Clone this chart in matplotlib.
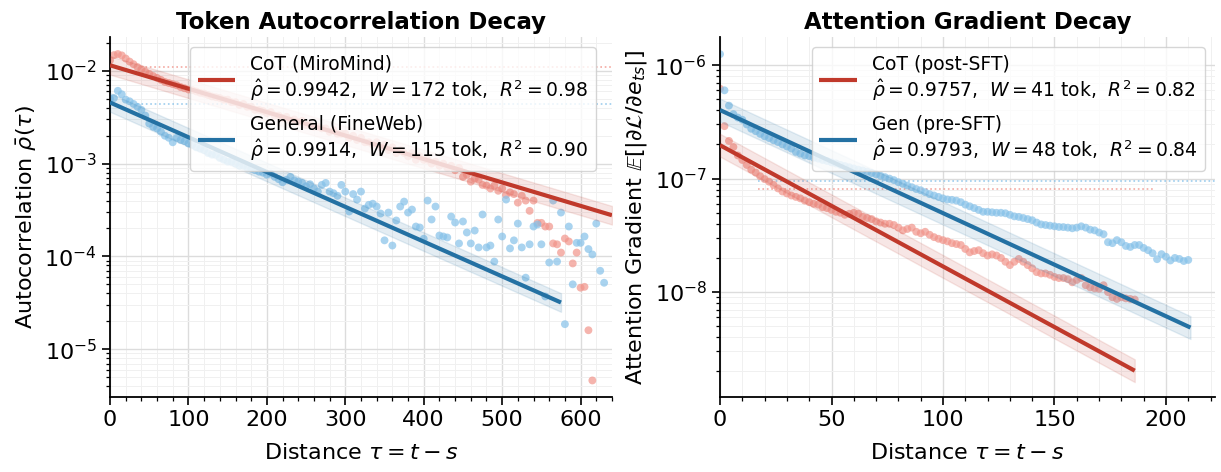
import numpy as np
import matplotlib
matplotlib.use('Agg')
import matplotlib.pyplot as plt
from matplotlib.ticker import MultipleLocator, LogLocator, NullFormatter

# ---- left panel: token autocorrelation (tau step 5), values in 1e-4 ----
tok_step = 5
cot_tok = np.array([
    130, 148, 152, 147, 136, 126, 118, 110, 104, 98, 93, 88, 84, 80, 76,
    74, 72, 70, 67, 65, 63, 62, 60, 58, 57, 55, 53, 52, 51, 49,
    49, 46, 46, 43, 44, 41, 41, 38, 38, 37, 35, 36, 33, 33, 31,
    32, 29, 30, 28, 29, 26, 27, 25, 25, 24, 24, 22, 23, 21, 21,
    21, 19, 20, 18, 19, 17, 17, 16, 17, 15, 16, 14, 15, 13, 14,
    13, 12, 13, 11, 12, 11, 11, 10, 10.5, 9.5, 10, 9, 9.5, 8.5, 9,
    7.2, 7.6, 6.4, 6.9, 6.7, 5.9, 5.8, 5.4, 5.8, 5.1, 5.4, 4.6, 4.9, 4.7,
    3.8, 4.5, 4.0, 3.1, 4.0, 2.3, 2.3, 2.1, 2.1, 1.38, 1.35, 1.1, 1.56, 1.45,
    0.84, 1.1, 0.46, 0.47, 0.16, 0.046]) * 1e-4
gen_tok = np.array([
    50, 51, 61, 56, 49, 47, 44, 41, 38, 33, 27, 25, 24, 22, 20,
    19, 17, 19, 18, 17.5, 16.5, 16, 15, 14.5, 14, 13, 12.5, 12.5, 11.5, 11,
    10.5, 10.5, 10, 9.5, 9.5, 9, 8.8, 8.5, 8.2, 8, 7.6, 7.8, 7.2, 6.8, 6.3,
    6.7, 7.2, 6.6, 6.4, 6.2, 5.7, 6.0, 5.4, 5.0, 5.9, 6.2, 5.0, 4.8, 4.5, 5.9,
    5.0, 3.05, 4.7, 4.1, 5.0, 3.28, 3.6, 3.7, 3.45, 2.9, 1.49, 2.97, 1.31, 2.44, 3.45,
    3.9, 2.97, 3.2, 2.1, 2.05, 1.55, 4.0, 2.5, 3.45, 1.68, 1.64, 1.6, 2.69, 2.32, 1.38,
    2.38, 1.81, 1.38, 1.9, 1.25, 2.83, 1.25, 1.31, 0.88, 2.5, 1.64, 4.1, 1.22, 1.49, 2.26,
    1.25, 0.59, 1.35, 2.1, 2.21, 1.35, 0.37, 0.86, 4.0, 0.88, 2.97, 0.186, 2.1, 0.50, 1.4,
    1.4, 1.64, 1.2, 1.05, 2.26, 0.7, 0.52]) * 1e-4

# ---- right panel: attention gradient (tau step 2), values in 1e-9 ----
grad_step = 2
cot_grad = np.array([
    620, 290, 215, 190, 160, 146, 132, 120, 113, 105, 99, 94, 88, 82, 77,
    74, 71, 69, 67, 64, 62, 60, 59, 56, 55, 53, 51, 50, 48, 49,
    50, 49, 46, 45, 44, 42, 41, 40, 40, 39, 37, 35, 36, 37, 34,
    33, 34, 32, 30.5, 29.5, 28.7, 28, 27, 26.5, 26, 24, 22.4, 23, 23.4, 22,
    21, 21.5, 21, 20, 18.5, 17.3, 18.5, 19.6, 18.5, 17.3, 16.2, 15, 14.6, 14.6, 14.2,
    13.6, 13.3, 13.3, 13, 12.2, 12.8, 13.3, 11.5, 11, 10.8, 10.7, 11.5, 10, 9.0, 8.7,
    9.0, 8.8, 8.7, 8.6]) * 1e-9
gen_grad = np.array([
    1250, 600, 440, 370, 345, 330, 300, 275, 262, 248, 236, 228, 218, 210, 200,
    192, 184, 172, 166, 160, 158, 153, 150, 146, 143, 139, 136, 132, 129, 126,
    123, 120, 118, 115, 112, 109, 106, 103, 100, 97, 93, 90, 87, 84, 81,
    79, 76, 73, 71, 69, 67, 65.5, 65, 64, 62, 59, 57, 55, 53, 51,
    51, 50.5, 50, 50, 49.5, 48, 46.5, 46, 45, 44, 43, 41, 39.5, 39, 38.5,
    38, 37.5, 37.4, 37, 36.5, 37, 38, 37, 35.5, 35, 33.5, 32.4, 27.5, 27, 28.7,
    27.5, 25.5, 25, 26, 26, 24.5, 23.4, 22, 19.5, 21.6, 20.5, 19, 20, 19.6, 18.8,
    19.2]) * 1e-9

# fitted exponential decays: (intercept, rho_hat, last tau drawn)
fit_cot_tok = (1.15e-2, 0.9942, 640)
fit_gen_tok = (4.57e-3, 0.9914, 575)
fit_cot_grad = (1.97e-7, 0.9757, 186)
fit_gen_grad = (4.02e-7, 0.9793, 211)

# dotted reference levels: (level, tau start, tau end)
ref_tok = [(1.1e-2, 40, 640, 'red'), (4.45e-3, 35, 640, 'blue')]
ref_grad = [(8.1e-8, 17, 195, 'red'), (9.5e-8, 17, 222, 'blue')]

lab_tok = ['CoT (MiroMind)\n$\\hat{\\rho}=0.9942$,  $W=172$ tok,  $R^2=0.98$',
           'General (FineWeb)\n$\\hat{\\rho}=0.9914$,  $W=115$ tok,  $R^2=0.90$']
lab_grad = ['CoT (post-SFT)\n$\\hat{\\rho}=0.9757$,  $W=41$ tok,  $R^2=0.82$',
            'Gen (pre-SFT)\n$\\hat{\\rho}=0.9793$,  $W=48$ tok,  $R^2=0.84$']

RED, RED_L = '#c0392b', '#f1948a'
BLUE, BLUE_L = '#2471a3', '#85c1e9'
cols = {'red': (RED, RED_L), 'blue': (BLUE, BLUE_L)}

plt.rcParams['font.family'] = 'DejaVu Sans'
plt.rcParams['mathtext.fontset'] = 'dejavusans'


def draw_panel(ax, series, fits, refs, labels, step, xmax, xmajor, xminor, ylim, leg_anchor):
    for (level, t0, t1, c) in refs:
        ax.hlines(level, t0, t1, colors=cols[c][1], linestyles=':', lw=1.2, alpha=0.8, zorder=1)
    for vals, c in series:
        tau = np.arange(len(vals)) * step
        ax.scatter(tau, vals, s=32, color=cols[c][1], alpha=0.7, edgecolors='none', zorder=2)
    handles = []
    for (a, rho, tend), c in fits:
        t = np.linspace(0, tend, 200)
        y = a * rho ** t
        ax.fill_between(t, y / 1.26, y * 1.26, color=cols[c][0], alpha=0.12, lw=1, zorder=3)
        h, = ax.plot(t, y, color=cols[c][0], lw=3, zorder=4, solid_capstyle='butt')
        handles.append(h)
    ax.set_yscale('log')
    ax.set_xlim(0, xmax)
    ax.set_ylim(*ylim)
    ax.xaxis.set_major_locator(MultipleLocator(xmajor))
    ax.xaxis.set_minor_locator(MultipleLocator(xminor))
    ax.yaxis.set_minor_locator(LogLocator(base=10, subs=np.arange(2, 10)))
    ax.yaxis.set_minor_formatter(NullFormatter())
    ax.grid(True, which='major', color='#dcdcdc', lw=1.0)
    ax.grid(True, which='minor', color='#f0f0f0', lw=0.7)
    ax.set_axisbelow(True)
    for s in ['top', 'right']:
        ax.spines[s].set_visible(False)
    for s in ['left', 'bottom']:
        ax.spines[s].set_linewidth(1.3)
    ax.tick_params(which='major', length=6, width=1.2, labelsize=16)
    ax.tick_params(which='minor', length=3, width=0.9)
    ax.set_xlabel('Distance $\\tau = t - s$', fontsize=16, labelpad=9)
    leg = ax.legend(handles, labels, loc='upper right', bbox_to_anchor=leg_anchor,
                    borderaxespad=0, fontsize=13.5, framealpha=0.8, labelspacing=0.6)
    leg.set_zorder(10)


fig = plt.figure(figsize=(12.21, 4.72), dpi=100)
ax1 = fig.add_axes([0.0901, 0.1589, 0.4111, 0.7627])
ax2 = fig.add_axes([0.5897, 0.1589, 0.4054, 0.7627])

draw_panel(ax1, [(cot_tok, 'red'), (gen_tok, 'blue')],
           [(fit_cot_tok, 'red'), (fit_gen_tok, 'blue')],
           ref_tok, lab_tok, tok_step, 640, 100, 20, (3.05e-6, 2.32e-2), (0.968, 0.972))
ax1.set_ylabel('Autocorrelation $\\bar{\\rho}(\\tau)$', fontsize=16)
ax1.set_title('Token Autocorrelation Decay', fontsize=16.5, fontweight='bold')

draw_panel(ax2, [(cot_grad, 'red'), (gen_grad, 'blue')],
           [(fit_cot_grad, 'red'), (fit_gen_grad, 'blue')],
           ref_grad, lab_grad, grad_step, 222, 50, 10, (1.19e-9, 1.77e-6), (0.980, 0.972))
ax2.set_ylabel('Attention Gradient $\\mathbb{E}[|\\partial\\mathcal{L}/\\partial e_{ts}|]$', fontsize=16)
ax2.set_title('Attention Gradient Decay', fontsize=16.5, fontweight='bold')

fig.savefig('out.png', dpi=100, facecolor='white')
